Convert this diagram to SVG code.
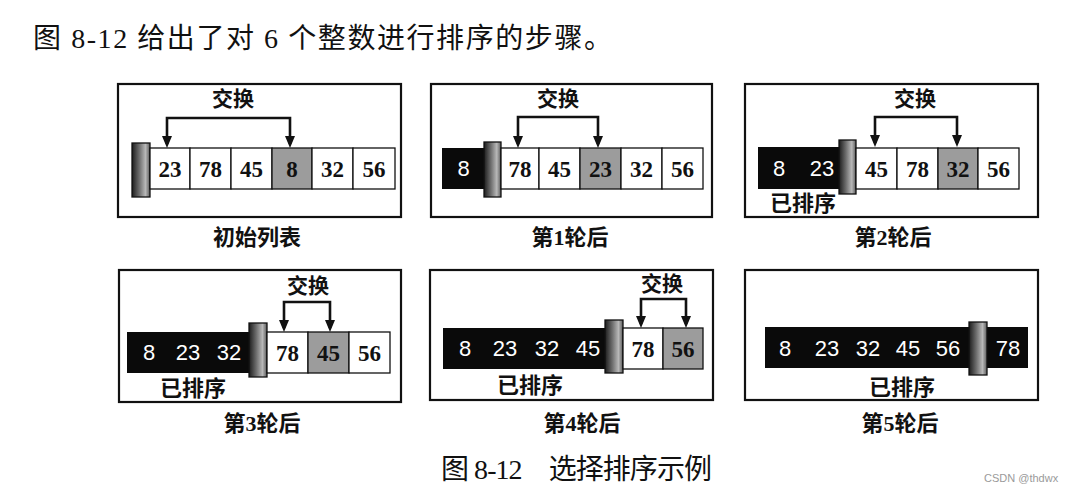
<svg xmlns="http://www.w3.org/2000/svg" width="1067" height="493" viewBox="0 0 1067 493">
<style>
.bg{fill:#ffffff}
.panel{fill:#ffffff;stroke:#111;stroke-width:2.2}
.cell{fill:#ffffff;stroke:#111;stroke-width:1.3}
.hit{fill:#9c9c9c;stroke:#111;stroke-width:1.3}
.done{fill:#0a0a0a}
.grip{fill:url(#gripGrad);stroke:#111;stroke-width:1.3}
.num{font-family:"Liberation Serif",serif;font-size:23px;font-weight:bold;fill:#111;text-anchor:middle}
.wnum{font-family:"Liberation Sans",sans-serif;font-size:22px;fill:#ffffff;text-anchor:middle}
.lbl{font-family:"Noto Sans CJK SC",sans-serif;font-size:21px;font-weight:bold;fill:#111;text-anchor:middle}
.cap{font-family:"Liberation Serif","Noto Sans CJK SC",serif;font-size:22px;font-weight:bold;fill:#111;text-anchor:middle}
.sorted{font-family:"Noto Sans CJK SC",sans-serif;font-size:22px;font-weight:bold;fill:#111;text-anchor:middle}
.arrow{fill:none;stroke:#111;stroke-width:2.6;marker-start:url(#ah);marker-end:url(#ah)}
.title{font-family:"Liberation Serif","Noto Sans CJK SC",serif;font-size:28px;fill:#111}
.wm{font-family:"Liberation Sans",sans-serif;font-size:11px;fill:#9a9a9a}
</style>
<defs>
<linearGradient id="gripGrad" x1="0" y1="0" x2="1" y2="0">
<stop offset="0" stop-color="#1c1c1c"/>
<stop offset="0.4" stop-color="#6c6c6c"/>
<stop offset="0.75" stop-color="#b8b8b8"/>
<stop offset="1" stop-color="#5a5a5a"/>
</linearGradient>
<marker id="ah" viewBox="0 0 12 10" refX="8" refY="5" markerWidth="12" markerHeight="10" markerUnits="userSpaceOnUse" orient="auto-start-reverse">
<path d="M0,0 L12,5 L0,10 z" fill="#111"/>
</marker>
</defs>
<rect class="bg" x="0" y="0" width="1067" height="493"/>

<text id="title" class="title" x="33" y="48" textLength="579" lengthAdjust="spacing">图 8-12 给出了对 6 个整数进行排序的步骤。</text>

<g id="panel-initial">
<rect class="panel" x="118" y="84" width="283" height="133"/>
<text class="lbl" x="233" y="106">交换</text>
<rect class="grip" x="132" y="143" width="18" height="54"/>
<rect class="cell" x="150" y="148" width="40" height="41"/>
<rect class="cell" x="190" y="148" width="41" height="41"/>
<rect class="cell" x="231" y="148" width="41" height="41"/>
<rect class="hit" x="272" y="148" width="40" height="41"/>
<rect class="cell" x="312" y="148" width="41" height="41"/>
<rect class="cell" x="353" y="148" width="42" height="41"/>
<text class="num" x="170" y="176.5">23</text>
<text class="num" x="210.5" y="176.5">78</text>
<text class="num" x="251.5" y="176.5">45</text>
<text class="num" x="292" y="176.5">8</text>
<text class="num" x="332.5" y="176.5">32</text>
<text class="num" x="374" y="176.5">56</text>
<text class="cap" x="257" y="245">初始列表</text>
</g>

<g id="panel-pass1">
<rect class="panel" x="431" y="84" width="281" height="133"/>
<text class="lbl" x="558" y="106">交换</text>
<rect class="done" x="442" y="148" width="43" height="41"/>
<text class="wnum" x="463.5" y="176">8</text>
<rect class="grip" x="484" y="142" width="17" height="55"/>
<rect class="cell" x="501" y="148" width="38" height="41"/>
<rect class="cell" x="539" y="148" width="41" height="41"/>
<rect class="hit" x="580" y="148" width="41" height="41"/>
<rect class="cell" x="621" y="148" width="41" height="41"/>
<rect class="cell" x="662" y="148" width="41" height="41"/>
<text class="num" x="520" y="176.5">78</text>
<text class="num" x="559.5" y="176.5">45</text>
<text class="num" x="600.5" y="176.5">23</text>
<text class="num" x="641.5" y="176.5">32</text>
<text class="num" x="682.5" y="176.5">56</text>
<text class="cap" x="570" y="245">第1轮后</text>
</g>

<g id="panel-pass2">
<rect class="panel" x="745" y="84" width="293" height="133"/>
<text class="lbl" x="915" y="106">交换</text>
<rect class="done" x="758" y="147" width="82" height="42"/>
<text class="wnum" x="779" y="176">8</text>
<text class="wnum" x="822" y="176">23</text>
<rect class="grip" x="839" y="140" width="17" height="54"/>
<rect class="cell" x="856" y="148" width="41" height="41"/>
<rect class="cell" x="897" y="148" width="41" height="41"/>
<rect class="hit" x="938" y="148" width="40" height="41"/>
<rect class="cell" x="978" y="148" width="41" height="41"/>
<text class="num" x="876.5" y="176.5">45</text>
<text class="num" x="917.5" y="176.5">78</text>
<text class="num" x="958" y="176.5">32</text>
<text class="num" x="998.5" y="176.5">56</text>
<text class="sorted" x="803" y="211">已排序</text>
<text class="cap" x="893" y="245">第2轮后</text>
</g>

<g id="panel-pass3">
<rect class="panel" x="119" y="270" width="282" height="132"/>
<text class="lbl" x="308" y="293">交换</text>
<rect class="done" x="127" y="332" width="123" height="41"/>
<text class="wnum" x="149" y="360">8</text>
<text class="wnum" x="188" y="360">23</text>
<text class="wnum" x="229" y="360">32</text>
<rect class="grip" x="249" y="323" width="18" height="54"/>
<rect class="cell" x="267" y="332" width="41" height="41"/>
<rect class="hit" x="308" y="332" width="41" height="41"/>
<rect class="cell" x="349" y="332" width="41" height="41"/>
<text class="num" x="287.5" y="360.5">78</text>
<text class="num" x="328.5" y="360.5">45</text>
<text class="num" x="369.5" y="360.5">56</text>
<text class="sorted" x="193" y="396">已排序</text>
<text class="cap" x="262" y="431">第3轮后</text>
</g>

<g id="panel-pass4">
<rect class="panel" x="430" y="270" width="283" height="130"/>
<text class="lbl" x="662" y="291">交换</text>
<rect class="done" x="443" y="328" width="164" height="41"/>
<text class="wnum" x="465" y="356">8</text>
<text class="wnum" x="505" y="356">23</text>
<text class="wnum" x="547" y="356">32</text>
<text class="wnum" x="588" y="356">45</text>
<rect class="grip" x="605" y="320" width="18" height="53"/>
<rect class="cell" x="623" y="328" width="40" height="41"/>
<rect class="hit" x="663" y="328" width="40" height="41"/>
<text class="num" x="643" y="356.5">78</text>
<text class="num" x="683" y="356.5">56</text>
<text class="sorted" x="530" y="393">已排序</text>
<text class="cap" x="582" y="431">第4轮后</text>
</g>

<g id="panel-pass5">
<rect class="panel" x="745" y="270" width="293" height="130"/>
<rect class="done" x="765" y="327" width="263" height="41"/>
<text class="wnum" x="785" y="355.5">8</text>
<text class="wnum" x="827" y="355.5">23</text>
<text class="wnum" x="868" y="355.5">32</text>
<text class="wnum" x="908" y="355.5">45</text>
<text class="wnum" x="948" y="355.5">56</text>
<text class="wnum" x="1008" y="355.5">78</text>
<rect class="grip" x="969" y="322" width="18" height="53"/>
<text class="sorted" x="902" y="395">已排序</text>
<text class="cap" x="900" y="431">第5轮后</text>
</g>

<g id="connectors">
<path class="arrow" d="M167,144 V118 H290 V144"/>
<path class="arrow" d="M518,144 V117 H598 V144"/>
<path class="arrow" d="M875,143 V117 H957 V143"/>
<path class="arrow" d="M284,328 V302 H330 V328"/>
<path class="arrow" d="M641,324 V299 H686 V324"/>
</g>

<text id="caption" class="title" x="441" y="479" textLength="271" lengthAdjust="spacing">图 8-12　选择排序示例</text>
<text id="watermark" class="wm" x="984" y="482">CSDN @thdwx</text>
</svg>
